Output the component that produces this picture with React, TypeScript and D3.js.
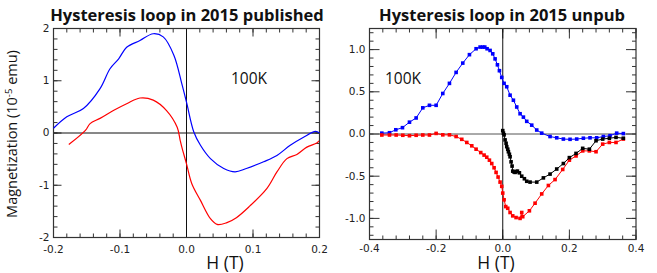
import * as d3 from "d3";
import { useEffect, useRef } from "react";

// Published loop (left): [H (T), M (1e-5 emu)]
const pubBlue: [number, number][] = [
  [-0.2, 0.09], [-0.18, 0.31], [-0.155, 0.47], [-0.13, 0.85], [-0.115, 1.23],
  [-0.102, 1.42], [-0.09, 1.64], [-0.07, 1.77], [-0.05, 1.9], [-0.035, 1.84],
  [-0.019, 1.49], [-0.007, 0.94], [0.0, 0.59], [0.011, 0.02], [0.021, -0.235],
  [0.036, -0.49], [0.056, -0.68], [0.073, -0.745], [0.09, -0.68], [0.116, -0.55],
  [0.136, -0.43], [0.156, -0.235], [0.176, -0.08], [0.194, 0.03], [0.2, 0.0],
];
const pubRed: [number, number][] = [
  [-0.177, -0.22], [-0.152, 0.05], [-0.145, 0.18], [-0.13, 0.28], [-0.11, 0.43],
  [-0.09, 0.56], [-0.07, 0.67], [-0.05, 0.63], [-0.03, 0.43], [-0.014, 0.11],
  [-0.0095, -0.14], [-0.007, -0.27], [0.0, -0.59], [0.008, -0.97], [0.021, -1.29],
  [0.036, -1.64], [0.046, -1.75], [0.06, -1.72], [0.075, -1.62], [0.095, -1.4],
  [0.121, -1.06], [0.136, -0.745], [0.151, -0.49], [0.166, -0.41], [0.181, -0.27],
  [0.196, -0.19], [0.199, -0.15],
];

// Unpublished loop (right)
const unpubBlue: [number, number][] = [
  [-0.363, 0.01], [-0.34, 0.015], [-0.321, 0.05], [-0.301, 0.075], [-0.28, 0.14],
  [-0.26, 0.19], [-0.24, 0.31], [-0.22, 0.34], [-0.2, 0.34], [-0.18, 0.48],
  [-0.16, 0.6], [-0.14, 0.73], [-0.12, 0.84], [-0.1, 0.94], [-0.08, 1.01],
  [-0.068, 1.03], [-0.06, 1.03], [-0.054, 1.03], [-0.047, 1.01], [-0.038, 0.99],
  [-0.03, 0.95], [-0.023, 0.89], [-0.016, 0.82], [-0.01, 0.75], [-0.003, 0.67],
  [0.004, 0.6], [0.012, 0.56], [0.022, 0.46], [0.032, 0.4], [0.042, 0.32],
  [0.052, 0.24], [0.062, 0.2], [0.072, 0.15], [0.087, 0.105], [0.102, 0.047],
  [0.117, 0.01], [0.142, -0.03], [0.162, -0.045], [0.182, -0.06], [0.202, -0.063],
  [0.222, -0.06], [0.242, -0.05], [0.262, -0.045], [0.282, -0.045], [0.302, -0.03],
  [0.322, -0.02], [0.342, 0.01], [0.362, 0.005],
];
const unpubRed: [number, number][] = [
  [-0.363, -0.012], [-0.34, -0.012], [-0.32, -0.012], [-0.3, -0.015], [-0.28, -0.02],
  [-0.26, -0.015], [-0.24, -0.012], [-0.22, -0.012], [-0.2, 0.007], [-0.18, -0.01],
  [-0.16, -0.01], [-0.14, -0.03], [-0.123, -0.063], [-0.108, -0.1], [-0.093, -0.14],
  [-0.08, -0.18], [-0.066, -0.22], [-0.056, -0.25], [-0.048, -0.275], [-0.04, -0.31],
  [-0.033, -0.35], [-0.026, -0.4], [-0.02, -0.455], [-0.014, -0.51], [-0.008, -0.57],
  [-0.003, -0.62], [0.0, -0.7], [0.004, -0.78], [0.009, -0.86], [0.015, -0.88],
  [0.022, -0.93], [0.03, -0.97], [0.04, -0.99], [0.052, -1.0], [0.057, -0.93],
  [0.06, -0.98], [0.08, -0.91], [0.097, -0.82], [0.117, -0.71], [0.137, -0.61],
  [0.157, -0.54], [0.18, -0.42], [0.2, -0.31], [0.22, -0.26], [0.24, -0.2],
  [0.26, -0.2], [0.28, -0.21], [0.3, -0.12], [0.32, -0.1], [0.34, -0.1], [0.362, -0.06],
];
const unpubBlack: [number, number][] = [
  [0.0, 0.04], [0.002, 0.01], [0.004, -0.01], [0.007, -0.07], [0.01, -0.11],
  [0.012, -0.15], [0.015, -0.18], [0.017, -0.21], [0.02, -0.24], [0.022, -0.27],
  [0.025, -0.33], [0.028, -0.38], [0.03, -0.44], [0.034, -0.45], [0.037, -0.455],
  [0.041, -0.445], [0.044, -0.44], [0.05, -0.46], [0.057, -0.5], [0.065, -0.53],
  [0.072, -0.56], [0.082, -0.57], [0.102, -0.57], [0.122, -0.52], [0.142, -0.475],
  [0.162, -0.415], [0.182, -0.35], [0.2, -0.28], [0.22, -0.23], [0.24, -0.17],
  [0.26, -0.18], [0.28, -0.08], [0.3, -0.06], [0.32, -0.05], [0.34, -0.04], [0.362, -0.05],
];

const pubXTicks = [-0.2, -0.1, 0, 0.1, 0.2];
const pubYTicks = [-2, -1, 0, 1, 2];
const unpubXTicks = [-0.4, -0.2, 0, 0.2, 0.4];
const unpubYTicks = [-1, -0.5, 0, 0.5, 1];

const W = 657;
const H = 273;

const fix = (f: (n: number) => string) => (n: number) => f(n).replace("\u2212", "-");

const drawPanel = (svg, cfg) => {
  const x = d3.scaleLinear().domain(cfg.xDomain).range([cfg.left, cfg.right]);
  const y = d3.scaleLinear().domain(cfg.yDomain).range([cfg.bottom, cfg.top]);
  const g = svg.append("g");

  const minor = (dom: number[], step: number) =>
    d3.range(Math.ceil(dom[0] / step - 1e-9), Math.floor(dom[1] / step + 1e-9) + 1).map((i) => i * step);

  const tickColor = "#333";
  // inward ticks on all four sides
  const drawXTicks = (vals: number[], len: number) => {
    vals.forEach((v) => {
      g.append("line").attr("x1", x(v)).attr("x2", x(v)).attr("y1", cfg.bottom).attr("y2", cfg.bottom - len)
        .attr("stroke", tickColor);
      g.append("line").attr("x1", x(v)).attr("x2", x(v)).attr("y1", cfg.top).attr("y2", cfg.top + len)
        .attr("stroke", tickColor);
    });
  };
  const drawYTicks = (vals: number[], len: number) => {
    vals.forEach((v) => {
      g.append("line").attr("y1", y(v)).attr("y2", y(v)).attr("x1", cfg.left).attr("x2", cfg.left + len)
        .attr("stroke", tickColor);
      g.append("line").attr("y1", y(v)).attr("y2", y(v)).attr("x1", cfg.right).attr("x2", cfg.right - len)
        .attr("stroke", tickColor);
    });
  };
  drawXTicks(minor(cfg.xDomain, cfg.xMinor), 4);
  drawYTicks(minor(cfg.yDomain, cfg.yMinor), 4);
  drawXTicks(cfg.xTicks, cfg.majorLen);
  drawYTicks(cfg.yTicks, cfg.majorLen);

  // zero lines
  g.append("line").attr("x1", cfg.left).attr("x2", cfg.right).attr("y1", y(0)).attr("y2", y(0))
    .attr("stroke", cfg.zeroColor);
  g.append("line").attr("x1", x(0)).attr("x2", x(0)).attr("y1", cfg.top).attr("y2", cfg.bottom)
    .attr("stroke", "#111");

  // frame
  g.append("rect").attr("x", cfg.left).attr("y", cfg.top)
    .attr("width", cfg.right - cfg.left).attr("height", cfg.bottom - cfg.top)
    .attr("fill", "none").attr("stroke", "#333").attr("stroke-width", 1.2);

  // tick labels
  g.selectAll(".xl").data(cfg.xTicks).enter().append("text")
    .attr("x", (d) => x(d)).attr("y", cfg.bottom + cfg.xLabelGap)
    .attr("text-anchor", "middle").attr("font-family", "DejaVu Sans").attr("font-size", 10.5)
    .attr("fill", "#222").text(cfg.xFmt);
  g.selectAll(".yl").data(cfg.yTicks).enter().append("text")
    .attr("x", cfg.left - 4).attr("y", (d) => y(d)).attr("dy", "0.33em")
    .attr("text-anchor", "end").attr("font-family", "DejaVu Sans").attr("font-size", 10.5)
    .attr("fill", "#222").text(cfg.yFmt);

  // series
  const marks = g.append("g");
  cfg.series.forEach((s) => {
    const line = d3.line().x((d) => x(d[0])).y((d) => y(d[1])).curve(cfg.curve);
    marks.append("path").datum(s.data).attr("d", line).attr("fill", "none")
      .attr("stroke", s.color).attr("stroke-width", cfg.lineWidth);
    if (cfg.markers) {
      marks.selectAll(null).data(s.data).enter().append("rect")
        .attr("x", (d) => x(d[0]) - 1.8).attr("y", (d) => y(d[1]) - 1.8)
        .attr("width", 3.6).attr("height", 3.6).attr("fill", s.color);
    }
  });

  // title, annotation, axis title
  svg.append("text").attr("x", cfg.titleX).attr("y", 21).attr("text-anchor", "middle")
    .attr("font-family", "Open Sans").attr("font-weight", "bold").attr("font-size", 16.5)
    .attr("fill", "#111").text(cfg.title);
  svg.append("text").attr("x", cfg.noteX).attr("y", 84)
    .attr("font-family", "Open Sans").attr("font-size", 15.5).attr("fill", "#111").text("100K");
  svg.append("text").attr("x", cfg.hX).attr("y", 269).attr("text-anchor", "middle")
    .attr("font-family", "Open Sans").attr("font-size", 17.5).attr("fill", "#111").text("H (T)");
};

const App = () => {
  const svgRef = useRef(null);

  useEffect(() => {
    const svg = d3.select(svgRef.current);
    svg.selectAll("*").remove();

    drawPanel(svg, {
      left: 53.5, right: 319.5, top: 28.5, bottom: 237.5,
      xDomain: [-0.2, 0.2], yDomain: [-2, 2],
      xTicks: pubXTicks, yTicks: pubYTicks, xMinor: 0.02, yMinor: 0.2, majorLen: 8, xLabelGap: 15.5,
      xFmt: fix(d3.format(".1f")), yFmt: fix(d3.format("d")),
      zeroColor: "#111", curve: d3.curveCatmullRom.alpha(0.5), lineWidth: 1.2, markers: false,
      series: [
        { data: pubBlue, color: "#0000ff" },
        { data: pubRed, color: "#ff0000" },
      ],
      title: "Hysteresis loop in 2015 published", titleX: 187, noteX: 231, hX: 225,
    });

    drawPanel(svg, {
      left: 369.5, right: 636, top: 28.5, bottom: 239.5,
      xDomain: [-0.4, 0.4], yDomain: [-1.25, 1.25],
      xTicks: unpubXTicks, yTicks: unpubYTicks, xMinor: 0.04, yMinor: 0.1, majorLen: 10, xLabelGap: 12.5,
      xFmt: fix(d3.format(".1f")), yFmt: fix(d3.format(".1f")),
      zeroColor: "#555", curve: d3.curveLinear, lineWidth: 1, markers: true,
      series: [
        { data: unpubBlue, color: "#0000ff" },
        { data: unpubRed, color: "#ff0000" },
        { data: unpubBlack, color: "#000000" },
      ],
      title: "Hysteresis loop in 2015 unpub", titleX: 502, noteX: 385, hX: 496,
    });

    // shared y-axis title
    const yl = svg.append("text").attr("transform", "translate(17,134) rotate(-90)")
      .attr("text-anchor", "middle").attr("font-family", "Open Sans").attr("font-size", 14.5)
      .attr("fill", "#111");
    yl.append("tspan").text("Magnetization (10");
    yl.append("tspan").attr("font-size", 9.5).attr("dy", -5).text("-5");
    yl.append("tspan").attr("dy", 5).text(" emu)");
  }, []);

  return (
    <svg
      ref={svgRef}
      width={W}
      height={H}
      style={{ position: "absolute", left: 0, top: 0, background: "#fff" }}
    ></svg>
  );
};

export default App;
